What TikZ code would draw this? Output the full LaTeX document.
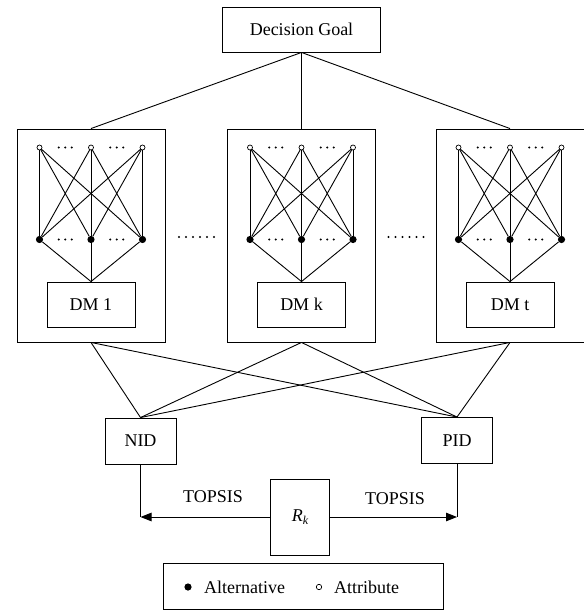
\documentclass[tikz,border=0pt]{standalone}
\usepackage{fontspec}
\setmainfont{Liberation Serif}
\usetikzlibrary{arrows.meta}

\begin{document}
\begin{tikzpicture}[x=1bp,y=-1bp,
    every node/.style={font=\fontsize{18bp}{20bp}\selectfont},
    line/.style={line width=0.9bp},
    box/.style={draw,line width=0.9bp,inner sep=0pt,rectangle},
    outer/.style={box,minimum width=148bp,minimum height=213bp},
    dmbox/.style={box,minimum width=88bp,minimum height=45bp},
    attr/.style={circle,draw,line width=0.7bp,fill=white,inner sep=0pt,minimum size=5bp},
    alt/.style={circle,fill=black,inner sep=0pt,minimum size=7.2bp},
    tip/.style={-{Triangle[length=11bp,width=8.5bp]}}]
  \useasboundingbox (0,0) rectangle (584,610);

  % goal at the top
  \node[box,minimum width=158bp,minimum height=45bp] (goal) at (301.5,29.5) {Decision Goal};

  % the two ideal decisions and the closeness node
  \node[box,minimum width=71bp,minimum height=46bp] (nid) at (140.5,441) {NID};
  \node[box,minimum width=71bp,minimum height=46bp] (pid) at (457,440.5) {PID};
  \node[box,minimum width=59bp,minimum height=76bp] (rk) at (300,517)
       {\itshape R\raisebox{-0.45ex}{\fontsize{12bp}{12bp}\selectfont k}};

  % one group per decision maker
  \foreach \cx/\id/\lab in {91/1/DM 1, 301.5/k/DM k, 510/t/DM t} {
    \node[outer] (grp\id) at (\cx,235.5) {};
    \node[dmbox] (dm\id) at (\cx,304.5) {\lab};
    \foreach \i in {1,2,3} {
      \node[alt] (b\id\i) at ({\cx+(\i-2)*51.5},239.5) {};
    }
    \foreach \i in {1,2,3} {
      \foreach \j in {1,2,3} {
        \draw[line] (\cx+\i*51.5-103,147.5) -- (b\id\j);
      }
      \draw[line] (b\id\i) -- (dm\id.north);
    }
    \foreach \i in {1,2,3} {
      \node[attr] (a\id\i) at ({\cx+(\i-2)*51.5},147.5) {};
    }
    % ellipses between the circles
    \foreach \y in {147.5,239.5} {
      \foreach \m in {-25.75,25.75} {
        \foreach \d in {-6.5,0,6.5} {
          \fill ({\cx+\m+\d},\y) circle (1.1bp);
        }
      }
    }
    \draw[line] (goal.south) -- (grp\id.north);
    \draw[line] (grp\id.south) -- (nid.north);
    \draw[line] (grp\id.south) -- (pid.north);
  }

  % ellipses between the groups
  \foreach \c in {196.5,406} {
    \foreach \d in {-17.5,-10.5,-3.5,3.5,10.5,17.5} {
      \fill ({\c+\d},237) circle (1.1bp);
    }
  }

  % TOPSIS arrows
  \coordinate (nidc) at (nid.south |- rk.center);
  \coordinate (pidc) at (pid.south |- rk.center);
  \draw[line] (nid.south) -- (nidc);
  \draw[line] (pid.south) -- (pidc);
  \draw[line,tip] (rk.west) -- (nidc);
  \draw[line,tip] (rk.east) -- (pidc);
  \node (t1) at (213,497) {TOPSIS};
  \node (t2) at (395,499) {TOPSIS};

  % legend
  \node[box,minimum width=280bp,minimum height=46bp] (legend) at (303,586) {};
  \node[alt] (lg1) at (188,587) {};
  \node[anchor=west,inner sep=0pt] (lt1) at (204,587) {Alternative};
  \node[attr,minimum size=5.4bp] (lg2) at (319,587) {};
  \node[anchor=west,inner sep=0pt] (lt2) at (334,587) {Attribute};
\end{tikzpicture}
\end{document}
